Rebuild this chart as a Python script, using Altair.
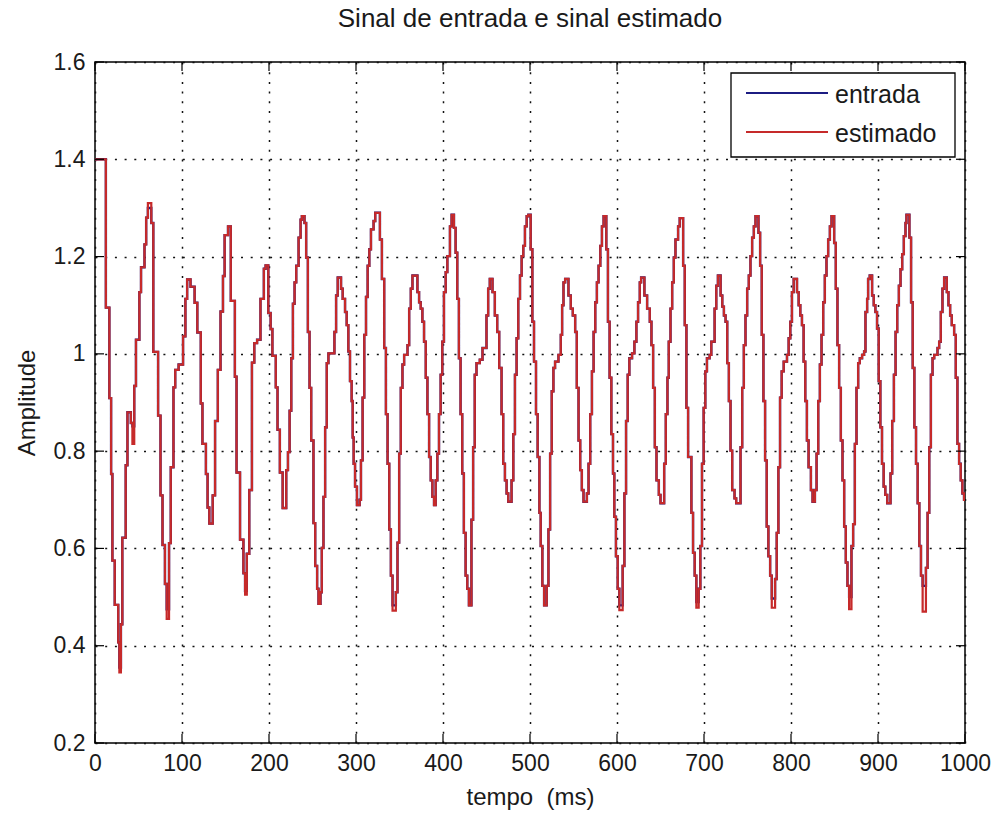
import altair as alt
import pandas as pd

# ---------------- data (step breakpoints: tempo ms, amplitude) -------------
seg_a = [(0, 1.40), (12.5, 1.095), (16.5, 0.909), (18.5, 0.753), (20.0, 0.575), (22.7, 0.484),
         (26.7, 0.407), (28.0, 0.355), (29.8, 0.444), (31.4, 0.622), (35.3, 0.771), (37.3, 0.880),
         (41.2, 0.858), (43.0, 0.851), (45.1, 0.934), (47.1, 1.029), (51.0, 1.127), (52.9, 1.178),
         (56.9, 1.225), (58.8, 1.280), (60.8, 1.300), (64.7, 1.269), (67.0, 1.004), (72.5, 0.873),
         (75.3, 0.709), (77.6, 0.607), (80.4, 0.527), (82.4, 0.475), (85.1, 0.611), (87.1, 0.767),
         (90.2, 0.931), (92.2, 0.967), (96.1, 0.978), (101.2, 1.036), (103.9, 1.113), (105.9, 1.153),
         (109.8, 1.138), (114.5, 1.105), (117.6, 1.044), (121.6, 0.898), (123.5, 0.815), (127.5, 0.753),
         (129.4, 0.684), (131.4, 0.651), (135.3, 0.709), (138.0, 0.862), (141.2, 0.967), (144.3, 1.087),
         (147.1, 1.160), (149.0, 1.244), (152.9, 1.262), (156.1, 1.109), (160.8, 0.953), (162.7, 0.756),
         (166.7, 0.618), (170.6, 0.549), (172.5, 0.513), (174.5, 0.589), (177.3, 0.720), (180.4, 0.982),
         (183.1, 1.022), (186.3, 1.029), (190.2, 1.113), (194.1, 1.175), (196.1, 1.182), (199.2, 1.084),
         (201.9, 1.051), (203.9, 0.996), (207.8, 0.931), (209.8, 0.844), (212.5, 0.756), (215.7, 0.683)]

seg_b = [(219.8, 0.761), (221.8, 0.798), (223.7, 0.883), (225.6, 0.991), (227.5, 1.103), (229.4, 1.147),
         (231.3, 1.181), (234.0, 1.239), (236.3, 1.276), (237.8, 1.283), (240.8, 1.269), (242.7, 1.198),
         (244.7, 1.045), (246.6, 0.930), (248.5, 0.822), (251.1, 0.652), (253.1, 0.564), (255.3, 0.517),
         (256.9, 0.486), (259.2, 0.510), (260.7, 0.601), (262.6, 0.706), (264.5, 0.849), (266.4, 0.981),
         (268.3, 1.001), (275.2, 1.045), (277.1, 1.120), (279.0, 1.157), (282.8, 1.134), (284.7, 1.113),
         (287.4, 1.086), (289.3, 1.059), (291.2, 1.005), (293.1, 0.944), (295.0, 0.903), (296.2, 0.828),
         (297.3, 0.774), (298.9, 0.727), (301.1, 0.689), (304.2, 0.700), (305.7, 0.781), (307.6, 0.910),
         (309.5, 1.039), (311.5, 1.117), (313.4, 1.181), (315.3, 1.215), (317.2, 1.256), (320.2, 1.273),
         (322.1, 1.290), (327.5, 1.235), (329.8, 1.154), (332.4, 1.012), (334.4, 0.876), (336.3, 0.774),
         (338.2, 0.639), (340.1, 0.544), (342.0, 0.483), (345.8, 0.510), (347.7, 0.612), (349.6, 0.795),
         (351.5, 0.930), (353.4, 0.978), (355.3, 0.998), (359.2, 1.018), (361.1, 1.093), (363.0, 1.134),
         (364.9, 1.161), (370.6, 1.127), (372.5, 1.106), (374.4, 1.093), (376.3, 1.066), (378.2, 1.025),
         (380.2, 0.951), (382.1, 0.876), (384.0, 0.788), (385.9, 0.740), (387.8, 0.706), (389.7, 0.689),
         (391.6, 0.740), (393.5, 0.795), (395.4, 0.876), (397.3, 0.957), (399.2, 1.025), (401.1, 1.127),
         (403.1, 1.168), (405.0, 1.201), (408.0, 1.262), (409.9, 1.286), (412.6, 1.259), (414.5, 1.208),
         (416.4, 1.113), (418.3, 0.991), (420.2, 0.876), (422.1, 0.754), (424.0, 0.632), (426.0, 0.544),
         (427.9, 0.517), (429.8, 0.483)]

seg_c = [(432.7, 0.659), (434.6, 0.808), (436.5, 0.957), (438.5, 0.981), (442.3, 0.988), (445.4, 1.012),
         (450.0, 1.079), (451.9, 1.134), (453.8, 1.154), (456.9, 1.127), (459.6, 1.079), (462.3, 1.045),
         (464.6, 0.971), (467.3, 0.876), (469.2, 0.774), (471.2, 0.740), (473.1, 0.713), (475.0, 0.696),
         (478.8, 0.740), (480.8, 0.835), (482.7, 0.957), (484.6, 1.032), (486.5, 1.113), (488.5, 1.161),
         (490.4, 1.201), (492.3, 1.222), (494.2, 1.262), (496.2, 1.283), (498.1, 1.286), (500.8, 1.215),
         (502.7, 1.066), (504.6, 0.984), (506.9, 0.876), (508.8, 0.788), (510.8, 0.673), (512.3, 0.605),
         (514.2, 0.523), (516.2, 0.483), (519.2, 0.523), (521.2, 0.639), (523.1, 0.795), (525.0, 0.923),
         (526.9, 0.971), (528.8, 0.984), (532.7, 0.998), (535.4, 1.039), (536.9, 1.100), (538.5, 1.147),
         (540.4, 1.154), (544.2, 1.120), (546.9, 1.093), (549.2, 1.079), (551.9, 1.045), (553.8, 0.930),
         (555.8, 0.822), (557.7, 0.761), (559.6, 0.720), (561.5, 0.696), (565.4, 0.713), (567.3, 0.774),
         (569.2, 0.876), (571.2, 0.964), (573.1, 1.045), (575.0, 1.106), (576.9, 1.147), (578.8, 1.181),
         (580.8, 1.222), (582.7, 1.262), (584.6, 1.283), (587.7, 1.215), (589.6, 1.066), (591.5, 0.951),
         (593.5, 0.835), (595.4, 0.754), (596.9, 0.665), (598.8, 0.584), (600.8, 0.517), (602.7, 0.483),
         (606.5, 0.564), (608.5, 0.713), (610.4, 0.862), (612.3, 0.957), (614.2, 0.991), (617.3, 1.001),
         (620.0, 1.025), (622.3, 1.066), (624.2, 1.106), (626.2, 1.147), (627.7, 1.157), (631.5, 1.120),
         (634.6, 1.093), (637.7, 1.066), (639.6, 1.018), (641.5, 0.930), (643.5, 0.808), (645.4, 0.740),
         (648.1, 0.710), (650.0, 0.693)]

seg_d = [(654.2, 0.774), (656.1, 0.876), (658.0, 0.951), (659.5, 1.025), (661.5, 1.093), (663.4, 1.147),
         (665.3, 1.198), (667.2, 1.235), (670.2, 1.262), (672.1, 1.279), (676.0, 1.181), (677.9, 1.059),
         (679.8, 0.889), (681.7, 0.788), (685.5, 0.673), (687.4, 0.591), (689.3, 0.544), (691.2, 0.490),
         (693.9, 0.517), (695.8, 0.605), (697.7, 0.774), (699.6, 0.889), (701.5, 0.964), (703.4, 0.991),
         (706.5, 0.998), (708.4, 1.025), (712.2, 1.093), (714.1, 1.140), (716.0, 1.161), (719.1, 1.120),
         (721.0, 1.097), (722.9, 1.079), (724.8, 1.066), (726.7, 0.981), (728.6, 0.903), (730.5, 0.801),
         (732.4, 0.720), (735.1, 0.703), (737.0, 0.693), (742.0, 0.808), (743.9, 0.930), (745.8, 1.018),
         (747.7, 1.079), (749.6, 1.134), (751.5, 1.161), (753.4, 1.201), (755.3, 1.239), (757.3, 1.262),
         (759.2, 1.283), (762.6, 1.249), (764.5, 1.181), (766.4, 1.039), (768.3, 0.903), (770.2, 0.781),
         (772.1, 0.645), (774.0, 0.584), (776.0, 0.544), (777.9, 0.497), (781.7, 0.537), (783.6, 0.632),
         (785.5, 0.767), (787.4, 0.910), (789.3, 0.964), (791.6, 0.984), (795.4, 0.998), (797.3, 1.032),
         (799.2, 1.066), (801.1, 1.127), (803.1, 1.154), (806.9, 1.127), (808.8, 1.100), (810.7, 1.079),
         (812.6, 1.059), (814.5, 0.984), (816.4, 0.903), (818.3, 0.822), (820.2, 0.767), (822.9, 0.720),
         (824.8, 0.696), (827.5, 0.720), (829.4, 0.795), (831.3, 0.903), (833.2, 0.978), (835.1, 1.039),
         (837.0, 1.106), (838.9, 1.161), (840.8, 1.201), (842.7, 1.235), (844.7, 1.262), (846.6, 1.283),
         (849.6, 1.228), (851.5, 1.134), (853.4, 1.018), (855.3, 0.930), (857.3, 0.822), (859.2, 0.740),
         (861.1, 0.645), (863.0, 0.571)]

seg_e = [(864.9, 0.523), (866.8, 0.500), (869.5, 0.605), (871.4, 0.650), (873.4, 0.815), (875.3, 0.930),
         (877.2, 0.981), (879.1, 0.991), (881.7, 0.998), (884.0, 1.005), (885.6, 1.086), (887.5, 1.113),
         (888.6, 1.154), (890.5, 1.161), (893.2, 1.120), (895.1, 1.100), (897.0, 1.086), (898.9, 1.052),
         (900.8, 0.944), (902.7, 0.849), (904.6, 0.774), (906.5, 0.727), (908.4, 0.710), (910.6, 0.693),
         (914.4, 0.754), (916.3, 0.862), (918.3, 0.957), (920.2, 1.045), (922.1, 1.100), (924.0, 1.140),
         (925.9, 1.174), (927.8, 1.205), (929.7, 1.242), (931.6, 1.269), (932.7, 1.286), (936.1, 1.239),
         (938.0, 1.106), (939.9, 0.971), (941.8, 0.849), (943.7, 0.774), (945.6, 0.693), (947.5, 0.605),
         (949.4, 0.544), (951.3, 0.523), (955.1, 0.560), (957.0, 0.673), (958.9, 0.808), (960.8, 0.957),
         (962.7, 0.991), (964.6, 0.998), (968.4, 1.012), (970.3, 1.025), (972.2, 1.086), (974.1, 1.134),
         (976.0, 1.157), (979.1, 1.127), (981.0, 1.100), (982.9, 1.079), (984.8, 1.059), (987.5, 1.039),
         (989.4, 0.951), (991.3, 0.815), (993.2, 0.774), (995.1, 0.740), (997.0, 0.713), (998.9, 0.700),
         (1000.0, 0.700)]

# samples where the estimated signal differs from the input (tempo ms, amplitude)
estimado_diff = [(28.0, 0.345), (43.0, 0.815), (60.8, 1.310), (82.4, 0.455), (172.5, 0.505),
                 (342.0, 0.472), (602.7, 0.473), (691.2, 0.478), (777.9, 0.478), (866.8, 0.475),
                 (951.3, 0.470)]

series_names = ["entrada", "estimado"]
x_ticks = [0, 100, 200, 300, 400, 500, 600, 700, 800, 900, 1000]
y_ticks = [0.2, 0.4, 0.6, 0.8, 1.0, 1.2, 1.4, 1.6]

# ---------------- build table -----------------------------------------------------------------
pairs = seg_a + seg_b + seg_c + seg_d + seg_e
df = pd.DataFrame(pairs, columns=["t", "entrada"])
df["estimado"] = df["entrada"]
for tt, vv in estimado_diff:
    df.loc[(df["t"] - tt).abs() < 1e-6, "estimado"] = vv

FONT = "Liberation Sans"
TXT = "#1a1a1a"
BLUE = "#1c1c82"
RED = "#c62a2a"
W, H = 870, 681

xscale = alt.Scale(domain=[0, 1000], nice=False, zero=False)
yscale = alt.Scale(domain=[0.2, 1.6], nice=False, zero=False)

grid_kw = dict(grid=True, gridDash=[2, 7.7], gridColor="#111111", gridWidth=1.5, gridOpacity=1)

xaxis = alt.Axis(values=x_ticks, title="tempo \u00a0(ms)", ticks=False, tickSize=0, domain=False,
                 labelFontSize=23, labelFont=FONT, labelColor=TXT, labelPadding=9,
                 labelFlush=False, labelOverlap=False, format="d",
                 titleFontSize=24, titleFont=FONT, titleColor=TXT, titleFontWeight="normal",
                 titlePadding=10, **grid_kw)
yaxis = alt.Axis(values=y_ticks, title="Amplitude", ticks=False, tickSize=0, domain=False,
                 labelFontSize=23, labelFont=FONT, labelColor=TXT, labelPadding=10,
                 labelOverlap=False, labelFlush=False,
                 labelExpr="datum.value == 1 ? '1' : format(datum.value, '.1f')",
                 titleFontSize=24, titleFont=FONT, titleColor=TXT, titleFontWeight="normal",
                 titlePadding=14, **grid_kw)

base = alt.Chart(df)
line_in = base.mark_line(interpolate="step-after", color=BLUE, strokeWidth=2.4, clip=True).encode(
    x=alt.X("t:Q", scale=xscale, axis=xaxis),
    y=alt.Y("entrada:Q", scale=yscale, axis=yaxis),
)
line_est = base.mark_line(interpolate="step-after", color=RED, strokeWidth=2.2, clip=True).encode(
    x=alt.X("t:Q", scale=xscale, axis=xaxis),
    y=alt.Y("estimado:Q", scale=yscale, axis=yaxis),
)

# inward tick marks (MATLAB style) on all four sides
ydf = pd.DataFrame({"t": [0.0] * len(y_ticks), "entrada": y_ticks})
xdf = pd.DataFrame({"t": x_ticks, "entrada": [1.0] * len(x_ticks)})
TL = 9
tick_l = alt.Chart(ydf).mark_rule(color="black", strokeWidth=1.2).encode(
    y=alt.Y("entrada:Q", scale=yscale, axis=yaxis), x=alt.value(0), x2=alt.value(TL))
tick_r = alt.Chart(ydf).mark_rule(color="black", strokeWidth=1.2).encode(
    y=alt.Y("entrada:Q", scale=yscale, axis=yaxis), x=alt.value(W - TL), x2=alt.value(W))
tick_b = alt.Chart(xdf).mark_rule(color="black", strokeWidth=1.2).encode(
    x=alt.X("t:Q", scale=xscale, axis=xaxis), y=alt.value(H - TL), y2=alt.value(H))
tick_t = alt.Chart(xdf).mark_rule(color="black", strokeWidth=1.2).encode(
    x=alt.X("t:Q", scale=xscale, axis=xaxis), y=alt.value(0), y2=alt.value(TL))

# legend box (top right, inside plot)
one = pd.DataFrame({"k": [0]})
leg_box = alt.Chart(one).mark_rect(fill="white", stroke="black", strokeWidth=1.3).encode(
    x=alt.value(636), x2=alt.value(860), y=alt.value(11), y2=alt.value(95))
leg_layers = [leg_box]
leg_colors = [BLUE, RED]
for i, name in enumerate(series_names):
    yy = 31 + 39 * i
    leg_layers.append(alt.Chart(one).mark_rule(color=leg_colors[i], strokeWidth=2).encode(
        x=alt.value(651), x2=alt.value(733), y=alt.value(yy)))
    leg_layers.append(alt.Chart(one).mark_text(align="left", baseline="middle", fontSize=25,
                                               font=FONT, color=TXT, dy=2).encode(
        x=alt.value(740), y=alt.value(yy), text=alt.value(name)))

chart = alt.layer(line_in, line_est, tick_l, tick_r, tick_b, tick_t, *leg_layers).properties(
    width=W, height=H,
    title=alt.TitleParams("Sinal de entrada e sinal estimado", fontSize=26, font=FONT,
                          fontWeight="normal", color=TXT, offset=19, anchor="middle"),
    padding={"left": 95, "top": 62, "right": 29, "bottom": 71},
    autosize=alt.AutoSizeParams(type="none"),
    background="white",
).configure_view(stroke="black", strokeWidth=1.5)

chart.save("out.html", embed_options={"renderer": "svg", "actions": False})
